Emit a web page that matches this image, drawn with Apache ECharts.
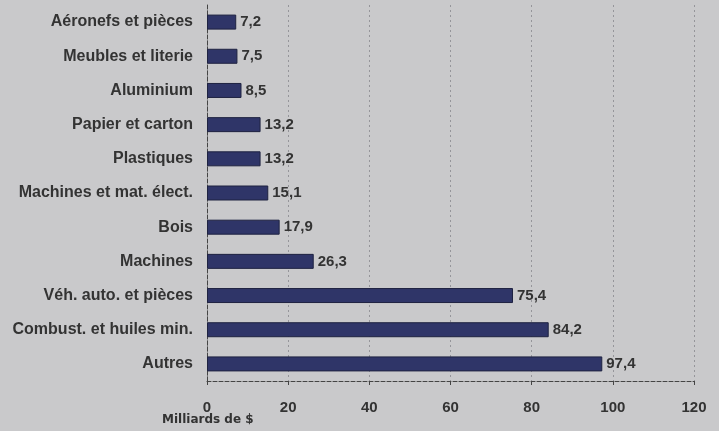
<!DOCTYPE html>
<html><head><meta charset="utf-8">
<script src="https://cdn.jsdelivr.net/npm/echarts@6/dist/echarts.min.js"></script>
<style>html,body{margin:0;padding:0;background:#c9c9cb;}#c{width:719px;height:431px;}</style>
</head><body><div id="c"></div>
<script>
const categories = ["Aéronefs et pièces","Meubles et literie","Aluminium","Papier et carton","Plastiques","Machines et mat. élect.","Bois","Machines","Véh. auto. et pièces","Combust. et huiles min.","Autres"];
const values = [7.2,7.5,8.5,13.2,13.2,15.1,17.9,26.3,75.4,84.2,97.4];
const xTicks = {min:0,max:120,interval:20};
const unitLabel = "Milliards de $";

const chart = echarts.init(document.getElementById('c'));
chart.setOption({
  backgroundColor:'#c9c9cb',
  animation:false,
  grid:{left:207,right:25,top:5,bottom:50},
  xAxis:{type:'value',min:xTicks.min,max:xTicks.max,interval:xTicks.interval,
    axisLine:{show:true,lineStyle:{color:'#444',type:'dashed',width:1}},
    axisTick:{show:true,length:4,lineStyle:{color:'#444'}},
    axisLabel:{color:'#333',fontFamily:'Liberation Sans',fontWeight:'bold',fontSize:15,margin:19},
    splitLine:{show:true,lineStyle:{color:'#95959a',type:[2,3],width:1}}},
  yAxis:{type:'category',data:categories,inverse:true,
    axisLine:{show:true,lineStyle:{color:'#444',type:'dashed'}},
    axisTick:{show:false},
    axisLabel:{color:'#333',fontFamily:'Liberation Sans',fontWeight:'bold',fontSize:16,margin:14}},
  series:[{type:'bar',data:values,barWidth:15,
    itemStyle:{color:'#2f3568',borderColor:'#1e2240',borderWidth:1},
    label:{show:true,position:'right',distance:4,color:'#333',fontFamily:'Liberation Sans',fontWeight:'bold',fontSize:15,
      formatter:p=>String(p.value).replace('.',',')}}],
  graphic:[{type:'text',left:162,top:414,style:{text:unitLabel,fill:'#333',font:'bold 12px "DejaVu Sans"'}}]
});
</script></body></html>
